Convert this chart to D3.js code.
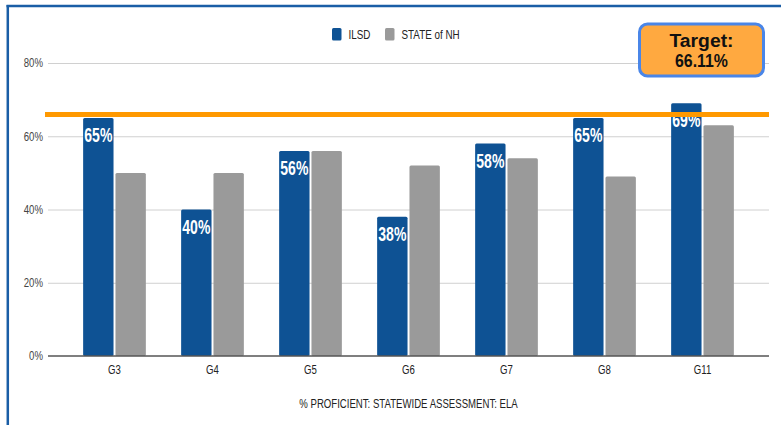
<!DOCTYPE html>
<html><head><meta charset="utf-8">
<script src="https://cdn.jsdelivr.net/npm/d3@7"></script>
<style>
html,body{margin:0;padding:0;background:#fff;}
svg{display:block;}
</style></head>
<body>
<svg id="c" width="781" height="425"></svg>
<script>
const categories = ["G3","G4","G5","G6","G7","G8","G11"];
const seriesNames = ["ILSD","STATE of NH"];
const ilsd = [65,40,56,38,58,65,69];
const stateNH = [50,50,56,52,54,49,63];
const yTicks = [0,20,40,60,80];
const target = 66.11;
const targetLines = ["Target:","66.11%"];
const xTitle = "% PROFICIENT: STATEWIDE ASSESSMENT: ELA";
const colors = ["#0e5294","#9a9a9a"];

const svg = d3.select("#c");
const font = "'Liberation Sans',Arial,sans-serif";

function condense(sel, k){
  sel.each(function(){
    const w = this.getComputedTextLength();
    d3.select(this).attr("textLength", w*k).attr("lengthAdjust","spacingAndGlyphs");
  });
}

// frame
svg.append("line").attr("x1",6.5).attr("x2",781).attr("y1",6).attr("y2",6)
  .attr("stroke","#1a5ea6").attr("stroke-width",2.5);
svg.append("line").attr("x1",7.8).attr("x2",7.8).attr("y1",5).attr("y2",425)
  .attr("stroke","#1a5ea6").attr("stroke-width",2.5);

const left = 48, right = 769;
const y = d3.scaleLinear().domain([0,80]).range([356,63]);
const x0 = d3.scaleBand().domain(categories).range([left,right]).paddingInner(0.36).paddingOuter(0.3585);
const x1 = d3.scaleBand().domain(seriesNames).range([0,x0.bandwidth()]).paddingInner(0.06);

// gridlines
svg.append("g").selectAll("line").data(yTicks.filter(d=>d>0)).join("line")
  .attr("x1",left).attr("x2",right).attr("y1",d=>y(d)+0.5).attr("y2",d=>y(d)+0.5)
  .attr("stroke","#d0d0d0").attr("stroke-width",1);

// y axis labels
const yAxis = d3.axisLeft(y).tickValues(yTicks).tickFormat(d=>d+"%").tickSize(0).tickPadding(5);
const gy = svg.append("g").attr("transform",`translate(${left},0)`).call(yAxis);
gy.select(".domain").remove();
gy.selectAll("text").attr("font-family",font).attr("font-size",12).attr("fill","#444").call(condense,0.8);

// bars
const data = categories.map((c,i)=>({c, vals:[{s:seriesNames[0],v:ilsd[i]},{s:seriesNames[1],v:stateNH[i]}]}));
const groups = svg.append("g").selectAll("g").data(data).join("g")
  .attr("transform",d=>`translate(${x0(d.c)},0)`);
groups.selectAll("rect").data(d=>d.vals).join("rect")
  .attr("x",d=>x1(d.s)).attr("width",x1.bandwidth())
  .attr("y",d=>y(d.v)).attr("height",d=>y(0)-y(d.v))
  .attr("rx",1.5).attr("fill",(d,i)=>colors[i]);

// value labels on ILSD
groups.append("text")
  .attr("x",d=>x1(seriesNames[0])+x1.bandwidth()/2)
  .attr("y",d=>y(d.vals[0].v)+24)
  .attr("text-anchor","middle").attr("font-family",font).attr("font-weight","bold")
  .attr("font-size",19.5).attr("fill","#fff").text(d=>d.vals[0].v+"%").call(condense,0.72);

// baseline
svg.append("line").attr("x1",left).attr("x2",right).attr("y1",y(0)).attr("y2",y(0))
  .attr("stroke","#555").attr("stroke-width",1.5);

// x axis labels
const xAxis = d3.axisBottom(x0).tickSize(0).tickPadding(9);
const gx = svg.append("g").attr("transform",`translate(0,${y(0)})`).call(xAxis);
gx.select(".domain").remove();
gx.selectAll("text").attr("font-family",font).attr("font-size",12).attr("fill","#222").call(condense,0.8);

// x title
svg.append("text").attr("x",(left+right)/2).attr("y",408).attr("text-anchor","middle")
  .attr("font-family",font).attr("font-size",12).attr("fill","#222").text(xTitle).call(condense,0.8);

// legend
const legX = [332,385];
const leg = svg.append("g").selectAll("g").data(seriesNames).join("g")
  .attr("transform",(d,i)=>`translate(${legX[i]},28)`);
leg.append("rect").attr("width",9.5).attr("height",12.5).attr("rx",1.5).attr("fill",(d,i)=>colors[i]);
leg.append("text").attr("x",16.5).attr("y",11).attr("font-family",font).attr("font-size",12)
  .attr("fill","#222").text(d=>d).call(condense,0.82);

// target line
svg.append("line").attr("x1",45).attr("x2",right).attr("y1",y(target)+0.6).attr("y2",y(target)+0.6)
  .attr("stroke","#ff9900").attr("stroke-width",5);

// target box
svg.append("rect").attr("x",639.5).attr("y",24).attr("width",124).attr("height",52).attr("rx",8)
  .attr("fill","#ffa940").attr("stroke","#4a86e8").attr("stroke-width",3);
const tWidths = [64,53];
svg.append("g").selectAll("text").data(targetLines).join("text")
  .attr("x",701.5).attr("y",(d,i)=>46.5+i*20.5).attr("text-anchor","middle")
  .attr("font-family",font).attr("font-weight","bold").attr("font-size",17.5)
  .attr("fill","#111").text(d=>d)
  .attr("textLength",(d,i)=>tWidths[i]).attr("lengthAdjust","spacingAndGlyphs");
</script>
</body></html>
